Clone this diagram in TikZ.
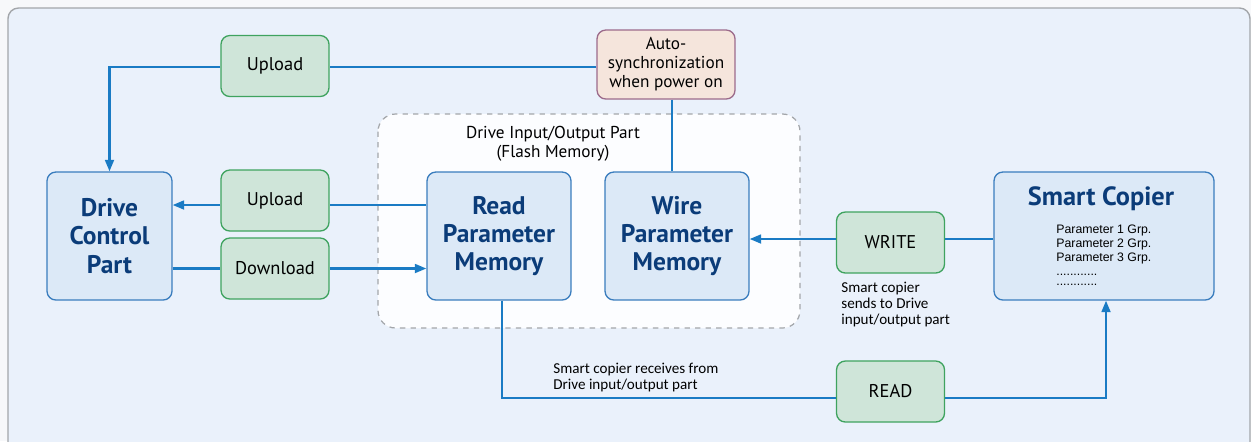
\documentclass[tikz,border=0pt]{standalone}
\usepackage{fontspec}
\setmainfont{PT Sans}
\newfontfamily\notefont{Carlito}
\newfontfamily\paramfont{Liberation Sans}
\usetikzlibrary{arrows.meta}

\definecolor{pagebg}{HTML}{F7F8FA}
\definecolor{panelbg}{HTML}{EAF1FB}
\definecolor{panelline}{HTML}{A3A6AA}
\definecolor{partfill}{HTML}{DCE9F7}
\definecolor{partline}{HTML}{3A7DBE}
\definecolor{parttext}{HTML}{0B3C79}
\definecolor{actfill}{HTML}{CFE5D9}
\definecolor{actline}{HTML}{3FA35F}
\definecolor{syncfill}{HTML}{F5E5DC}
\definecolor{syncline}{HTML}{9C6B8B}
\definecolor{flowblue}{HTML}{1A7BC4}

\begin{document}
\begin{tikzpicture}[x=0.02cm,y=-0.02cm,
  part/.style={draw=partline,fill=partfill,line width=0.75pt,rounded corners=5pt,
    text=parttext,align=center,inner sep=0pt,minimum height=2.56cm,
    font=\fontsize{14.5}{16}\selectfont\bfseries},
  act/.style={draw=actline,fill=actfill,line width=0.75pt,rounded corners=5pt,
    inner sep=0pt,minimum width=2.16cm,minimum height=1.22cm,
    font=\fontsize{10.5}{12}\selectfont},
  flow/.style={draw=flowblue,line width=1.3pt},
  arr/.style={flow,-{Triangle[length=6.5pt,width=5pt]}},
  note/.style={anchor=north west,align=left,inner sep=0pt,
    font=\notefont\fontsize{8.6}{9}\selectfont}]
\useasboundingbox (0,0) rectangle (1251,441);
\fill[pagebg] (0,0) rectangle (1251,441);
% panel
\draw[panelline,fill=panelbg,line width=0.8pt,rounded corners=6pt] (8,470) -- (8,8) -- (1250,8) -- (1250,470);
% flash memory part
\draw[panelline,fill=white!88!panelbg,dashed,line width=0.7pt,rounded corners=10pt] (378,114) rectangle (800,328);
\node[align=center,font=\fontsize{9.8}{10.8}\selectfont] (flash) at (553,144) {Drive Input/Output Part\\(Flash Memory)};

% parts
\node[part,minimum width=2.5cm] (drive) at (109.5,236) {Drive\\Control\\Part};
\node[part,minimum width=2.88cm] (read) at (499,236) {Read\\Parameter\\Memory};
\node[part,minimum width=2.88cm] (wire) at (677,236) {Wire\\Parameter\\Memory};
\node[part,minimum width=4.4cm] (copier) at (1104,236) {};
\node[text=parttext,font=\fontsize{15}{16}\selectfont\bfseries] (copiertitle) at (1101,199) {Smart Copier};
\node[anchor=north west,align=left,inner sep=0pt,font=\paramfont\fontsize{7}{8}\selectfont] (params) at (1056,224.5)
  {Parameter 1 Grp.\\Parameter 2 Grp.\\Parameter 3 Grp.\\............\\[-2.3pt]............};

% actions
\node[act] (upA) at (275,66) {Upload};
\node[act] (upB) at (275,200.5) {Upload};
\node[act] (down) at (275,268.5) {Download};
\node[act] (write) at (890.5,242.5) {WRITE};
\node[act] (readop) at (890.5,391.5) {READ};
\node[draw=syncline,fill=syncfill,line width=0.75pt,rounded corners=5pt,align=center,
  inner sep=0pt,minimum width=2.76cm,minimum height=1.38cm,
  font=\fontsize{9.8}{10.8}\selectfont] (sync) at (666,64.5) {Auto-\\synchronization\\when power on};

% notes
\node[note] (wnote) at (841,282) {Smart copier\\sends to Drive\\input/output part};
\node[note] (rnote) at (553,363) {Smart copier receives from\\Drive input/output part};

% connectors
\draw[flow] (sync.west |- 0,67) -- (upA.east |- 0,67);
\draw[arr] (upA.west |- 0,67) -| (drive.north);
\draw[flow] (sync.south -| 672,0) -- (wire.north -| 672,0);
\draw[flow] (read.west |- 0,205) -- (upB.east |- 0,205);
\draw[arr] (upB.west |- 0,205) -- (drive.east |- 0,205);
\draw[flow] (drive.east |- down) -- (down.west);
\draw[arr] (down.east) -- (read.west |- down);
\draw[flow] (copier.west |- 0,239) -- (write.east |- 0,239);
\draw[arr] (write.west |- 0,239) -- (wire.east |- 0,239);
\draw[flow] (read.south -| 502,0) |- (readop.west |- 0,398);
\draw[arr] (readop.east |- 0,398) -| (copier.south -| 1106,0);
\end{tikzpicture}
\end{document}
